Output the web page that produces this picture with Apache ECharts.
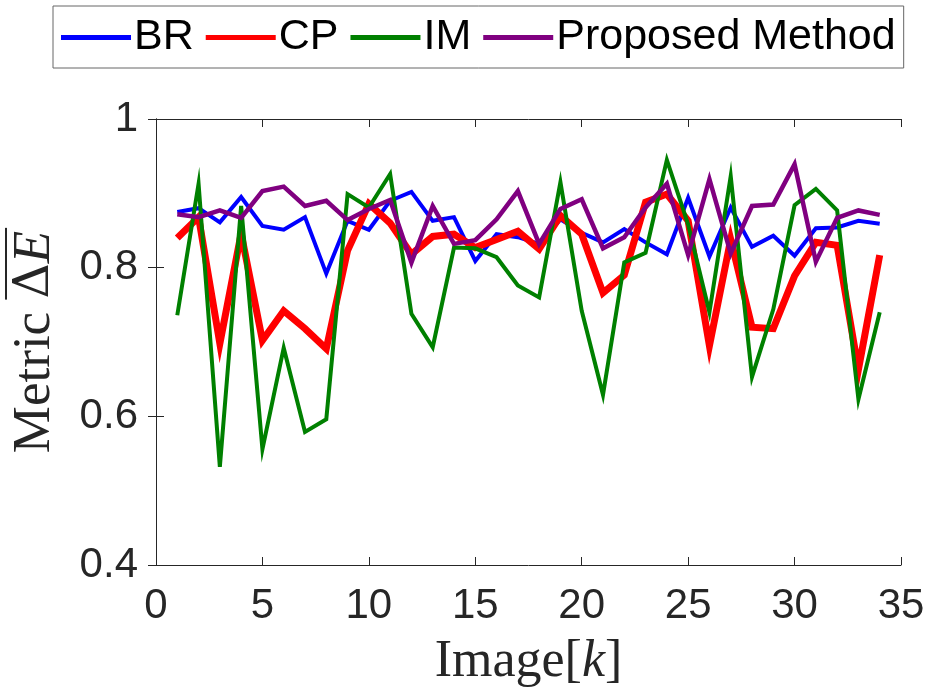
<!DOCTYPE html>
<html>
<head>
<meta charset="utf-8">
<script src="https://cdn.jsdelivr.net/npm/echarts@6/dist/echarts.min.js"></script>
<style>html,body{margin:0;padding:0;background:#fff;}#c{width:933px;height:696px;}</style>
</head>
<body>
<div id="c"></div>
<script>
// Data
const images = [1,2,3,4,5,6,7,8,9,10,11,12,13,14,15,16,17,18,19,20,21,22,23,24,25,26,27,28,29,30,31,32,33,34];
const BR = [0.875,0.880,0.861,0.895,0.856,0.851,0.868,0.792,0.863,0.851,0.890,0.902,0.863,0.868,0.809,0.845,0.841,0.832,0.865,0.847,0.834,0.852,0.834,0.818,0.894,0.815,0.881,0.828,0.843,0.816,0.853,0.854,0.863,0.859];
const CP = [0.840,0.868,0.698,0.846,0.702,0.742,0.718,0.691,0.823,0.886,0.860,0.818,0.842,0.845,0.827,0.838,0.849,0.825,0.870,0.845,0.766,0.790,0.888,0.899,0.863,0.695,0.838,0.720,0.718,0.789,0.834,0.830,0.663,0.817];
const IM = [0.736,0.913,0.532,0.883,0.556,0.692,0.579,0.596,0.899,0.881,0.926,0.738,0.693,0.827,0.826,0.814,0.776,0.760,0.915,0.742,0.629,0.807,0.820,0.945,0.858,0.740,0.923,0.653,0.744,0.884,0.906,0.877,0.623,0.740];
const PM = [0.872,0.868,0.877,0.867,0.903,0.909,0.883,0.890,0.864,0.879,0.891,0.807,0.883,0.832,0.837,0.865,0.903,0.832,0.879,0.892,0.826,0.841,0.881,0.913,0.817,0.919,0.819,0.883,0.885,0.939,0.808,0.867,0.877,0.871];
const seriesNames = ['BR','CP','IM','Proposed Method'];
const xTicks = {min:0, max:35, interval:5};
const yTicks = {min:0.4, max:1, interval:0.2};

const pairs = arr => images.map((k,i)=>[k,arr[i]]);
const chart = echarts.init(document.getElementById('c'), null, {renderer:'canvas'});
const axisColor = '#262626';
const sans = 'Liberation Sans, Arial, sans-serif';
const serif = '"Liberation Serif", "Times New Roman", serif';
const deltaFont = '"DejaVu Serif", serif';
const fs = 53;

// measure the y-axis title so the overline sits over the ΔE part
const cv = document.createElement('canvas').getContext('2d');
cv.textBaseline = 'middle';
cv.font = fs + 'px ' + serif;
const w1 = cv.measureText('Metric ').width;
const mDesc = cv.measureText('M').actualBoundingBoxDescent;
cv.font = (fs-4) + 'px ' + deltaFont;
const w2 = cv.measureText('\u0394').width;
cv.font = 'italic ' + fs + 'px ' + serif;
const w3 = cv.measureText('E').width;
const eAsc = cv.measureText('E').actualBoundingBoxAscent;
const W = w1 + w2 + w3;

const mk = (name, data, color, width) => ({
  name, type:'line', data: pairs(data), symbol:'none', showSymbol:false,
  lineStyle:{color, width, join:'miter'}, itemStyle:{color}, animation:false
});
chart.setOption({
  animation:false,
  backgroundColor:'#fff',
  legend:{
    top:6, left:53,
    padding:[10,8,9,8],
    icon:'rect',
    itemWidth:70, itemHeight:5, itemGap:12,
    borderColor:'#666', borderWidth:1, backgroundColor:'#fff',
    textStyle:{fontFamily:sans, fontSize:43, color:'#000', padding:[0,0,0,-2]},
    data: seriesNames
  },
  grid:{left:156, right:32, top:119, bottom:131, containLabel:false},
  graphic:[{
    type:'group', x: 49 - mDesc, y: 342, rotation: Math.PI/2,
    children:[{
      type:'text',
      style:{
        text:'Metric {d|\u0394}{i|E}', x:0, y:0, align:'center', verticalAlign:'middle',
        fontFamily:serif, fontSize:fs, fill:axisColor,
        rich:{
          d:{fontFamily:deltaFont, fontSize:fs-4, fill:axisColor},
          i:{fontFamily:serif, fontStyle:'italic', fontSize:fs, fill:axisColor}
        }
      }
    },{
      type:'line',
      shape:{x1: -W/2 + w1 - 1, y1: -eAsc - 8, x2: W/2 + 3, y2: -eAsc - 8},
      style:{stroke:axisColor, lineWidth:2}
    }]
  }],
  xAxis:[{
    type:'value', min:xTicks.min, max:xTicks.max, interval:xTicks.interval,
    name:'Image[{i|k}]', nameLocation:'middle', nameGap:71,
    nameTextStyle:{fontFamily:serif, fontSize:52, color:axisColor, rich:{i:{fontFamily:serif, fontStyle:'italic', fontSize:52, color:axisColor}}},
    axisLine:{show:true, lineStyle:{color:axisColor, width:1}},
    axisTick:{show:true, inside:true, length:8, lineStyle:{color:axisColor}},
    axisLabel:{fontFamily:sans, fontSize:42, color:axisColor, margin:20},
    splitLine:{show:false}
  },{
    type:'value', position:'top', min:xTicks.min, max:xTicks.max, interval:xTicks.interval,
    axisLine:{show:true, lineStyle:{color:axisColor, width:1}},
    axisTick:{show:true, inside:true, length:8, lineStyle:{color:axisColor}},
    axisLabel:{show:false}, splitLine:{show:false}
  }],
  yAxis:[{
    type:'value', min:yTicks.min, max:yTicks.max, interval:yTicks.interval,
    axisLine:{show:true, lineStyle:{color:axisColor, width:1}},
    axisTick:{show:true, inside:true, length:8, lineStyle:{color:axisColor}},
    axisLabel:{fontFamily:sans, fontSize:42, color:axisColor, margin:18, formatter:v=>String(+v.toFixed(1))},
    splitLine:{show:false}
  },{
    type:'value', position:'right', min:yTicks.min, max:yTicks.max, interval:yTicks.interval,
    axisLine:{show:true, lineStyle:{color:axisColor, width:1}},
    axisTick:{show:true, inside:true, length:8, lineStyle:{color:axisColor}},
    axisLabel:{show:false}, splitLine:{show:false}
  }],
  series:[
    mk('BR', BR, '#0000FF', 4),
    mk('CP', CP, '#FF0000', 7),
    mk('IM', IM, '#008000', 4),
    mk('Proposed Method', PM, '#800080', 4.5)
  ]
});
</script>
</body>
</html>
